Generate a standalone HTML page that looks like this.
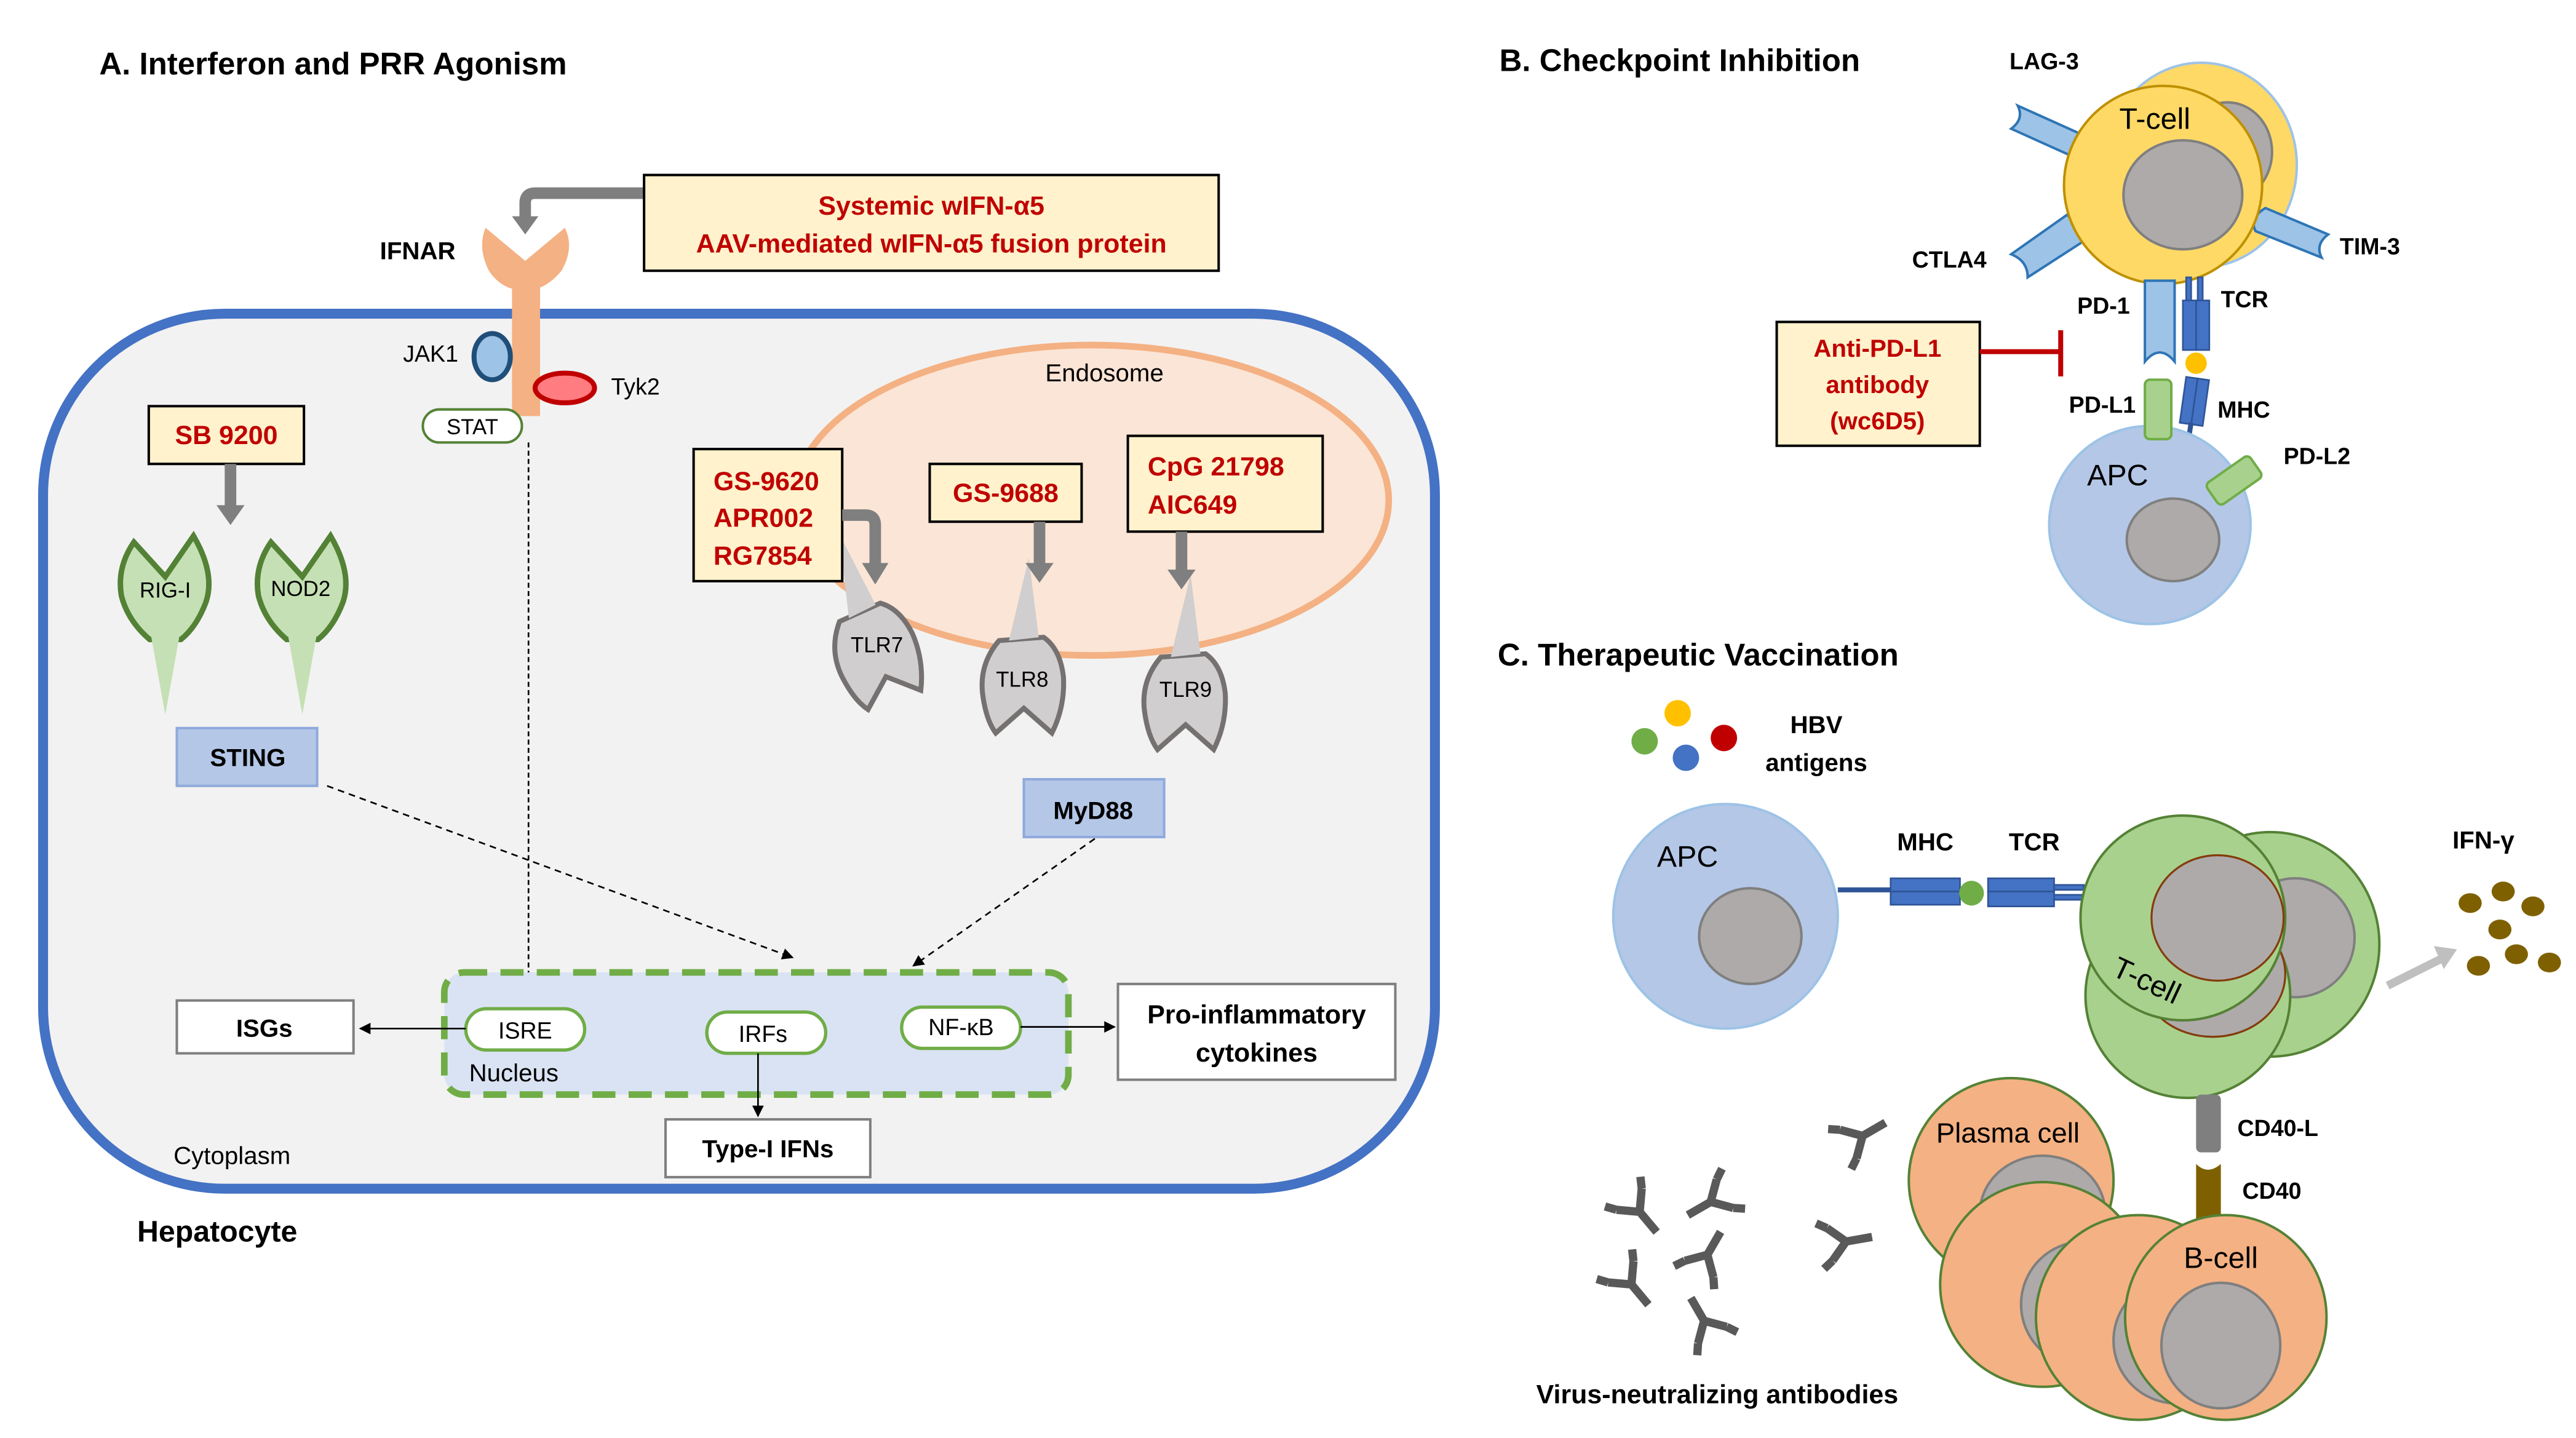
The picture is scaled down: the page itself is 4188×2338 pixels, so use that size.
<!DOCTYPE html>
<html><head><meta charset="utf-8"><style>html,body{margin:0;padding:0;background:#fff}svg{display:block}</style></head>
<body>
<svg width="4188" height="2338" viewBox="0 0 1560 871" xmlns="http://www.w3.org/2000/svg" font-family="'Liberation Sans', sans-serif">
<defs>
<marker id="ah" viewBox="0 0 10 10" refX="9" refY="5" markerWidth="7" markerHeight="7" orient="auto"><path d="M0,0L10,5L0,10Z" fill="#000"/></marker>
<g id="tlr"><path d="M-15,-22 Q-27,-8 -25,10 Q-23,26 -17,34 L0,19 L17,34 Q25,18 24,0 Q22,-17 12,-24 Z" fill="#d0cece" stroke="#767171" stroke-width="3"/><polygon points="-9,-22 9,-24 3,-72" fill="#d0cece"/></g>
<g id="rig"><path d="M-20,-28 L0,-6 L18,-32 Q32,-8 26,10 Q20,26 10,34 L-10,34 Q-24,22 -28,6 Q-31,-12 -20,-28 Z" fill="#c5e0b4" stroke="#538135" stroke-width="3.5"/><polygon points="-9,32 9,32 0,82" fill="#c5e0b4"/></g>
<g id="ab" stroke="#595959" stroke-width="5" fill="none"><path d="M0,0 L0,16 M0,0 L-10,-10 M0,0 L10,-10 M-10,-10 L-14,-16 M10,-10 L14,-16" stroke-linecap="butt"/></g>
</defs>

<!-- Panel A -->
<text x="60" y="45" font-size="19" font-weight="bold" fill="#000">A. Interferon and PRR Agonism</text>
<rect x="26" y="190" width="843" height="530" rx="110" fill="#f2f2f2" stroke="#4472c4" stroke-width="6"/>
<text x="83" y="752" font-size="18" font-weight="bold">Hepatocyte</text>
<text x="105" y="705" font-size="15">Cytoplasm</text>

<ellipse cx="661" cy="303" rx="180" ry="94" fill="#fbe5d6" stroke="#f4b183" stroke-width="4"/>
<text x="633" y="231" font-size="15">Endosome</text>

<rect x="310" y="160" width="17" height="92" fill="#f4b183"/>
<path d="M294,138 L318,158 L342,138 Q348,150 340,164 Q330,176 318,176 Q304,176 296,164 Q289,150 294,138 Z" fill="#f4b183"/>
<path d="M390,117 L324,117 Q318,117 318,123 L318,132" fill="none" stroke="#7f7f7f" stroke-width="7"/>
<polygon points="310,131 326,131 318,142" fill="#7f7f7f"/>
<text x="230" y="157" font-size="15" font-weight="bold">IFNAR</text>
<rect x="390" y="106" width="348" height="58" fill="#fff2cc" stroke="#000" stroke-width="1.5"/>
<text x="564" y="130" font-size="16" font-weight="bold" fill="#c00000" text-anchor="middle">Systemic wIFN-α5</text>
<text x="564" y="153" font-size="16" font-weight="bold" fill="#c00000" text-anchor="middle">AAV-mediated wIFN-α5 fusion protein</text>

<ellipse cx="298" cy="216" rx="11" ry="14" fill="#9dc3e6" stroke="#1f4e79" stroke-width="3"/>
<text x="244" y="219" font-size="14">JAK1</text>
<ellipse cx="342" cy="235" rx="18" ry="9" fill="#ff7c80" stroke="#c00000" stroke-width="3"/>
<text x="370" y="239" font-size="14">Tyk2</text>
<rect x="256" y="248" width="60" height="20" rx="10" fill="#fff" stroke="#548235" stroke-width="1.5"/>
<text x="286" y="263" font-size="13" text-anchor="middle">STAT</text>
<line x1="320" y1="268" x2="320" y2="596" stroke="#000" stroke-width="1" stroke-dasharray="3,2" marker-end="url(#ah)"/>

<rect x="90" y="246" width="94" height="35" fill="#fff2cc" stroke="#000" stroke-width="1.5"/>
<text x="137" y="269" font-size="16" font-weight="bold" fill="#c00000" text-anchor="middle">SB 9200</text>
<rect x="136" y="281" width="7" height="26" fill="#7f7f7f"/><polygon points="131,306 148,306 139.5,318" fill="#7f7f7f"/>
<use href="#rig" transform="translate(100,355) scale(0.95)"/>
<use href="#rig" transform="translate(183,355) scale(0.95)"/>
<text x="100" y="362" font-size="13" text-anchor="middle">RIG-I</text>
<text x="182" y="361" font-size="13" text-anchor="middle">NOD2</text>

<rect x="107" y="441" width="85" height="35" fill="#b4c7e7" stroke="#8faadc" stroke-width="1.5"/>
<text x="150" y="464" font-size="15" font-weight="bold" text-anchor="middle">STING</text>

<use href="#tlr" transform="translate(530,392) rotate(-20)"/>
<use href="#tlr" transform="translate(620,410)"/>
<use href="#tlr" transform="translate(718,420)"/>
<text x="531" y="395" font-size="13" text-anchor="middle">TLR7</text>
<text x="619" y="416" font-size="13" text-anchor="middle">TLR8</text>
<text x="718" y="422" font-size="13" text-anchor="middle">TLR9</text>

<rect x="420" y="272" width="90" height="80" fill="#fff2cc" stroke="#000" stroke-width="1.5"/>
<text x="432" y="297" font-size="16" font-weight="bold" fill="#c00000">GS-9620</text>
<text x="432" y="319" font-size="16" font-weight="bold" fill="#c00000">APR002</text>
<text x="432" y="342" font-size="16" font-weight="bold" fill="#c00000">RG7854</text>
<path d="M510,312 L524,312 Q530,312 530,318 L530,342" fill="none" stroke="#7f7f7f" stroke-width="7"/>
<polygon points="522,341 538,341 530,354" fill="#7f7f7f"/>

<rect x="563" y="281" width="92" height="35" fill="#fff2cc" stroke="#000" stroke-width="1.5"/>
<text x="609" y="304" font-size="16" font-weight="bold" fill="#c00000" text-anchor="middle">GS-9688</text>
<rect x="626" y="316" width="7" height="26" fill="#7f7f7f"/><polygon points="621,341 638,341 629.5,353" fill="#7f7f7f"/>

<rect x="683" y="264" width="118" height="58" fill="#fff2cc" stroke="#000" stroke-width="1.5"/>
<text x="695" y="288" font-size="16" font-weight="bold" fill="#c00000">CpG 21798</text>
<text x="695" y="311" font-size="16" font-weight="bold" fill="#c00000">AIC649</text>
<rect x="712" y="322" width="7" height="24" fill="#7f7f7f"/><polygon points="707,345 724,345 715.5,357" fill="#7f7f7f"/>

<rect x="620" y="472" width="85" height="35" fill="#b4c7e7" stroke="#8faadc" stroke-width="1.5"/>
<text x="662" y="496" font-size="15" font-weight="bold" text-anchor="middle">MyD88</text>

<line x1="198" y1="476" x2="480" y2="580" stroke="#000" stroke-width="1" stroke-dasharray="4,3" marker-end="url(#ah)"/>
<line x1="663" y1="508" x2="553" y2="585" stroke="#000" stroke-width="1" stroke-dasharray="4,3" marker-end="url(#ah)"/>

<rect x="269" y="589" width="378" height="74" rx="12" fill="#dae3f3" stroke="#70ad47" stroke-width="4" stroke-dasharray="14,8"/>
<rect x="282" y="611" width="72" height="25" rx="12.5" fill="#fff" stroke="#70ad47" stroke-width="2"/>
<text x="318" y="629" font-size="14" text-anchor="middle">ISRE</text>
<text x="284" y="655" font-size="15">Nucleus</text>
<rect x="428" y="613" width="72" height="25" rx="12.5" fill="#fff" stroke="#70ad47" stroke-width="2"/>
<text x="462" y="631" font-size="14" text-anchor="middle">IRFs</text>
<rect x="546" y="610" width="72" height="25" rx="12.5" fill="#fff" stroke="#70ad47" stroke-width="2"/>
<text x="582" y="627" font-size="14" text-anchor="middle">NF-κB</text>

<rect x="107" y="606" width="107" height="32" fill="#fff" stroke="#7f7f7f" stroke-width="1.5"/>
<text x="160" y="628" font-size="15" font-weight="bold" text-anchor="middle">ISGs</text>
<line x1="282" y1="623" x2="218" y2="623" stroke="#000" stroke-width="1" marker-end="url(#ah)"/>
<rect x="403" y="678" width="124" height="35" fill="#fff" stroke="#7f7f7f" stroke-width="1.5"/>
<text x="465" y="701" font-size="15" font-weight="bold" text-anchor="middle">Type-I IFNs</text>
<line x1="459" y1="638" x2="459" y2="676" stroke="#000" stroke-width="1" marker-end="url(#ah)"/>
<rect x="677" y="596" width="168" height="58" fill="#fff" stroke="#7f7f7f" stroke-width="1.5"/>
<text x="761" y="620" font-size="16" font-weight="bold" text-anchor="middle">Pro-inflammatory</text>
<text x="761" y="643" font-size="16" font-weight="bold" text-anchor="middle">cytokines</text>
<line x1="618" y1="622" x2="675" y2="622" stroke="#000" stroke-width="1" marker-end="url(#ah)"/>

<!-- Panel B -->
<text x="908" y="43" font-size="19" font-weight="bold">B. Checkpoint Inhibition</text>
<text x="1217" y="42" font-size="14" font-weight="bold">LAG-3</text>
<text x="1158" y="162" font-size="14" font-weight="bold">CTLA4</text>
<text x="1417" y="154" font-size="14" font-weight="bold">TIM-3</text>
<ellipse cx="1333" cy="100" rx="58" ry="62" fill="#ffd966" stroke="#9dc3e6" stroke-width="1.5"/>
<ellipse cx="1349" cy="92" rx="27" ry="30" fill="#aeaaaa" stroke="#7f7f7f" stroke-width="1.5"/>
<g fill="#9dc3e6" stroke="#2e75b6" stroke-width="1.5">
<path d="M1222,64 L1262,82 Q1268,90 1258,96 L1218,78 Q1226,72 1222,64 Z"/>
<path d="M1218,154 L1252,130 Q1258,138 1262,146 L1228,168 Q1228,158 1218,154 Z"/>
<path d="M1372,126 L1410,142 Q1402,148 1406,156 L1366,140 Q1362,132 1372,126 Z"/>
</g>
<ellipse cx="1310" cy="112" rx="60" ry="60" fill="#ffd966" stroke="#bf9000" stroke-width="1.5"/>
<ellipse cx="1322" cy="118" rx="36" ry="33" fill="#aeaaaa" stroke="#7f7f7f" stroke-width="1.5"/>
<text x="1305" y="78" font-size="18" text-anchor="middle">T-cell</text>
<path d="M1299,170 L1317,170 L1317,219 Q1308,208 1299,219 Z" fill="#9dc3e6" stroke="#2e75b6" stroke-width="1.5"/>
<g fill="#4472c4" stroke="#2f5597" stroke-width="1">
<rect x="1324" y="168" width="3" height="14"/><rect x="1331" y="168" width="3" height="14"/>
<rect x="1322" y="182" width="8" height="30"/><rect x="1330" y="182" width="8" height="30"/>
<rect x="1322" y="229" width="7" height="28" transform="rotate(8 1328 243)"/><rect x="1329" y="229" width="7" height="28" transform="rotate(8 1328 243)"/>
</g>
<line x1="1327" y1="256" x2="1324" y2="275" stroke="#2f5597" stroke-width="3"/>
<circle cx="1330" cy="220" r="6.5" fill="#ffc000"/>
<text x="1258" y="190" font-size="14" font-weight="bold">PD-1</text>
<text x="1345" y="186" font-size="14" font-weight="bold">TCR</text>
<text x="1343" y="253" font-size="14" font-weight="bold">MHC</text>
<text x="1253" y="250" font-size="14" font-weight="bold">PD-L1</text>
<text x="1383" y="281" font-size="14" font-weight="bold">PD-L2</text>
<ellipse cx="1302" cy="318" rx="61" ry="60" fill="#b4c7e7" stroke="#9dc3e6" stroke-width="1.5"/>
<ellipse cx="1316" cy="327" rx="28" ry="25" fill="#aeaaaa" stroke="#7f7f7f" stroke-width="1.5"/>
<text x="1264" y="294" font-size="18">APC</text>
<rect x="1299" y="230" width="16" height="36" rx="3" fill="#a9d18e" stroke="#70ad47" stroke-width="1.5"/>
<rect x="1345" y="275" width="16" height="32" rx="3" fill="#a9d18e" stroke="#70ad47" stroke-width="1.5" transform="rotate(55 1353 291)"/>
<rect x="1076" y="195" width="123" height="75" fill="#fff2cc" stroke="#000" stroke-width="1.5"/>
<text x="1137" y="216" font-size="15" font-weight="bold" fill="#c00000" text-anchor="middle">Anti-PD-L1</text>
<text x="1137" y="238" font-size="15" font-weight="bold" fill="#c00000" text-anchor="middle">antibody</text>
<text x="1137" y="260" font-size="15" font-weight="bold" fill="#c00000" text-anchor="middle">(wc6D5)</text>
<line x1="1199" y1="213" x2="1248" y2="213" stroke="#c00000" stroke-width="3"/>
<line x1="1248" y1="200" x2="1248" y2="228" stroke="#c00000" stroke-width="3"/>

<!-- Panel C -->
<text x="907" y="403" font-size="19" font-weight="bold">C. Therapeutic Vaccination</text>
<circle cx="996" cy="449" r="8" fill="#70ad47"/><circle cx="1016" cy="432" r="8" fill="#ffc000"/>
<circle cx="1021" cy="459" r="8" fill="#4472c4"/><circle cx="1044" cy="447" r="8" fill="#c00000"/>
<text x="1100" y="444" font-size="15" font-weight="bold" text-anchor="middle">HBV</text>
<text x="1100" y="467" font-size="15" font-weight="bold" text-anchor="middle">antigens</text>
<ellipse cx="1045" cy="555" rx="68" ry="68" fill="#b4c7e7" stroke="#9dc3e6" stroke-width="1.5"/>
<ellipse cx="1060" cy="567" rx="31" ry="29" fill="#aeaaaa" stroke="#7f7f7f" stroke-width="1.5"/>
<text x="1022" y="525" font-size="18" text-anchor="middle">APC</text>
<line x1="1113" y1="539" x2="1145" y2="539" stroke="#2f5597" stroke-width="3"/>
<g fill="#4472c4" stroke="#2f5597" stroke-width="1">
<rect x="1145" y="532" width="42" height="8"/><rect x="1145" y="540" width="42" height="8"/>
<rect x="1204" y="532" width="40" height="8"/><rect x="1204" y="540" width="40" height="9"/>
<rect x="1244" y="536" width="18" height="3"/><rect x="1244" y="542" width="18" height="3"/>
</g>
<circle cx="1194" cy="541" r="7.5" fill="#70ad47"/>
<text x="1166" y="515" font-size="15" font-weight="bold" text-anchor="middle">MHC</text>
<text x="1232" y="515" font-size="15" font-weight="bold" text-anchor="middle">TCR</text>
<ellipse cx="1375" cy="572" rx="66" ry="68" fill="#a9d18e" stroke="#548235" stroke-width="1.5"/>
<ellipse cx="1390" cy="568" rx="36" ry="36" fill="#aeaaaa" stroke="#7f7f7f" stroke-width="1.5"/>
<ellipse cx="1325" cy="603" rx="62" ry="62" fill="#a9d18e" stroke="#548235" stroke-width="1.5"/>
<ellipse cx="1340" cy="590" rx="44" ry="38" fill="#aeaaaa" stroke="#843c0c" stroke-width="1.2"/>
<ellipse cx="1322" cy="556" rx="62" ry="62" fill="#a9d18e" stroke="#548235" stroke-width="1.5"/>
<ellipse cx="1343" cy="556" rx="40" ry="38" fill="#aeaaaa" stroke="#843c0c" stroke-width="1.2"/>
<text x="1300" y="600" font-size="18" text-anchor="middle" transform="rotate(25 1300 594)">T-cell</text>
<text x="1504" y="514" font-size="15" font-weight="bold" text-anchor="middle">IFN-γ</text>
<line x1="1446" y1="597" x2="1480" y2="580" stroke="#bfbfbf" stroke-width="5"/>
<polygon points="1488,575 1474,573 1480,587" fill="#bfbfbf"/>
<g fill="#7f6000">
<ellipse cx="1496" cy="547" rx="7" ry="6"/><ellipse cx="1516" cy="540" rx="7" ry="6"/><ellipse cx="1534" cy="549" rx="7" ry="6"/>
<ellipse cx="1514" cy="563" rx="7" ry="6"/><ellipse cx="1501" cy="585" rx="7" ry="6"/><ellipse cx="1524" cy="578" rx="7" ry="6"/><ellipse cx="1544" cy="583" rx="7" ry="6"/>
</g>
<rect x="1330" y="663" width="15" height="35" rx="3" fill="#7f7f7f"/>
<path d="M1330,705 Q1337,712 1345,705 L1345,740 L1330,740 Z" fill="#7f6000"/>
<text x="1355" y="688" font-size="14" font-weight="bold">CD40-L</text>
<text x="1358" y="726" font-size="14" font-weight="bold">CD40</text>
<g stroke="#548235" stroke-width="1.5">
<ellipse cx="1218" cy="715" rx="62" ry="62" fill="#f4b183"/>
<ellipse cx="1237" cy="735" rx="38" ry="35" fill="#aeaaaa" stroke="#7f7f7f"/>
<ellipse cx="1237" cy="778" rx="62" ry="62" fill="#f4b183"/>
<ellipse cx="1262" cy="790" rx="38" ry="38" fill="#aeaaaa" stroke="#7f7f7f"/>
<ellipse cx="1295" cy="798" rx="62" ry="62" fill="#f4b183"/>
<ellipse cx="1318" cy="812" rx="38" ry="38" fill="#aeaaaa" stroke="#7f7f7f"/>
<ellipse cx="1348" cy="798" rx="61" ry="62" fill="#f4b183"/>
<ellipse cx="1345" cy="815" rx="36" ry="38" fill="#aeaaaa" stroke="#7f7f7f"/>
</g>
<text x="1216" y="692" font-size="17" text-anchor="middle">Plasma cell</text>
<text x="1345" y="768" font-size="18" text-anchor="middle">B-cell</text>
<use href="#ab" transform="translate(1128,688) rotate(-120)"/>
<use href="#ab" transform="translate(1118,752) rotate(-100)"/>
<use href="#ab" transform="translate(993,734) rotate(-40)"/>
<use href="#ab" transform="translate(1036,728) rotate(60)"/>
<use href="#ab" transform="translate(1034,760) rotate(-150)"/>
<use href="#ab" transform="translate(988,778) rotate(-40)"/>
<use href="#ab" transform="translate(1032,800) rotate(150)"/>
<text x="1040" y="850" font-size="16" font-weight="bold" text-anchor="middle">Virus-neutralizing antibodies</text>
</svg>
</body></html>
